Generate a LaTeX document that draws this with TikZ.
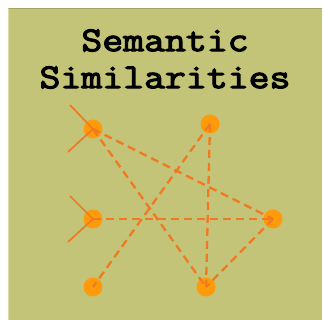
\documentclass[tikz,border=0pt]{standalone}
\usepackage{fontspec}
\newfontfamily\titlefont[FakeBold=3.2,FakeStretch=1.16]{Latin Modern Mono}
\definecolor{panel}{HTML}{C4C478}
\definecolor{paneledge}{HTML}{A4A468}
\definecolor{dot}{HTML}{FF9A0A}
\definecolor{link}{HTML}{F07A22}
\tikzset{
  concept/.style={circle, fill=dot, minimum size=19pt, inner sep=0pt},
  simlink/.style={draw=link, line width=2.3pt, dash pattern=on 8pt off 5pt},
  feeder/.style={draw=link, line width=1.7pt},
  titletext/.style={font=\titlefont\fontsize{35}{37}\selectfont, align=center, text=black}
}
\begin{document}
\begin{tikzpicture}[x=1pt,y=1pt]
\useasboundingbox (0,0) rectangle (324,320);
\fill[white] (0,0) rectangle (324,320);
\fill[panel] (8,0) rectangle (322,312);
\draw[paneledge, line width=1.5pt] (9,311.5) -- (322,311.5);
\draw[panel!60!white, line width=1.5pt] (8.5,0) -- (8.5,311);
\node[titletext] (title) at (165,261) {Semantic\\Similarities};
\node[concept] (a) at (93,191) {};
\node[concept] (b) at (210,196) {};
\node[concept] (c) at (93,101) {};
\node[concept] (d) at (273,101) {};
\node[concept] (e) at (93,33) {};
\node[concept] (f) at (206,33) {};
\coordinate (a1) at (70,215);
\coordinate (a2) at (68,168);
\coordinate (c1) at (70,124);
\coordinate (c2) at (68,78);
\draw[feeder] (a1) -- (a.center);
\draw[feeder] (a2) -- (a.center);
\draw[feeder] (c1) -- (c.center);
\draw[feeder] (c2) -- (c.center);
\draw[simlink] (a.center) -- (d.center);
\draw[simlink] (a.center) -- (f.center);
\draw[simlink] (b.center) -- (e.center);
\draw[simlink] (b.center) -- (f.center);
\draw[simlink] (c.center) -- (d.center);
\draw[simlink] (d.center) -- (f.center);
\end{tikzpicture}
\end{document}
